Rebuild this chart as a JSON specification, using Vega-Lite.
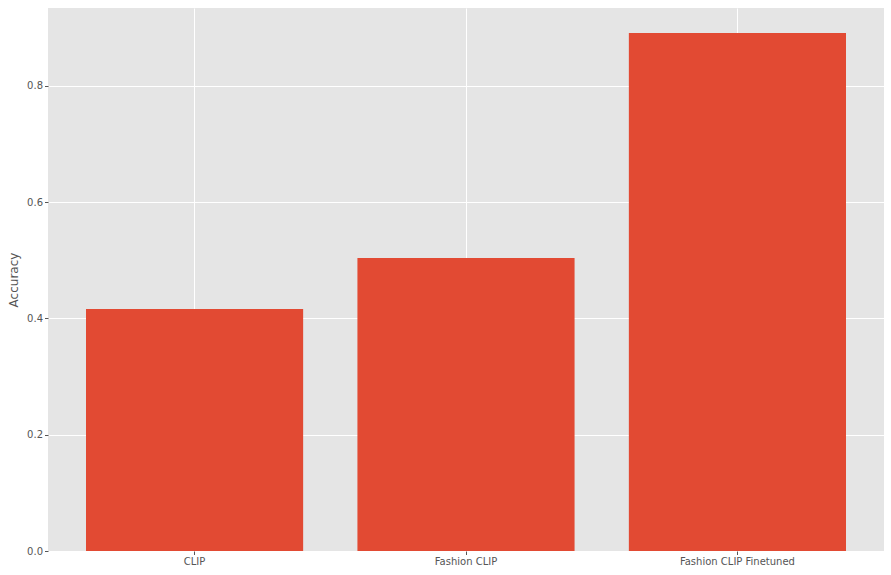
{
  "$schema": "https://vega.github.io/schema/vega-lite/v6.json",
  "width": 836,
  "height": 543,
  "autosize": {"type": "none"},
  "padding": {"left": 48, "top": 8, "right": 7, "bottom": 24},
  "background": "white",
  "data": {"values": [
    {"model": "CLIP", "accuracy": 0.4163},
    {"model": "Fashion CLIP", "accuracy": 0.504},
    {"model": "Fashion CLIP Finetuned", "accuracy": 0.891}
  ]},
  "mark": {"type": "bar", "color": "#E24A33"},
  "encoding": {
    "x": {
      "field": "model", "type": "nominal", "sort": null, "title": null,
      "scale": {"paddingInner": 0.2, "paddingOuter": 0.14},
      "axis": {"labelAngle": 0, "grid": true, "gridColor": "white", "gridWidth": 1, "domain": false,
               "tickColor": "#555555", "tickSize": 3.5, "labelFont": "DejaVu Sans", "labelFontSize": 10,
               "labelColor": "#555555", "labelPadding": 2}
    },
    "y": {
      "field": "accuracy", "type": "quantitative", "title": "Accuracy",
      "scale": {"domain": [0, 0.934], "nice": false, "zero": true},
      "axis": {"values": [0, 0.2, 0.4, 0.6, 0.8], "format": ".1f", "grid": true, "gridColor": "white", "gridWidth": 1,
               "domain": false, "tickColor": "#555555", "tickSize": 3.5, "labelFont": "DejaVu Sans",
               "labelFontSize": 10, "labelColor": "#555555", "labelPadding": 2,
               "titleFont": "DejaVu Sans", "titleFontSize": 12, "titleFontWeight": "normal", "titleColor": "#555555", "titlePadding": 6}
    }
  },
  "config": {"view": {"fill": "#E5E5E5", "stroke": null}}
}
